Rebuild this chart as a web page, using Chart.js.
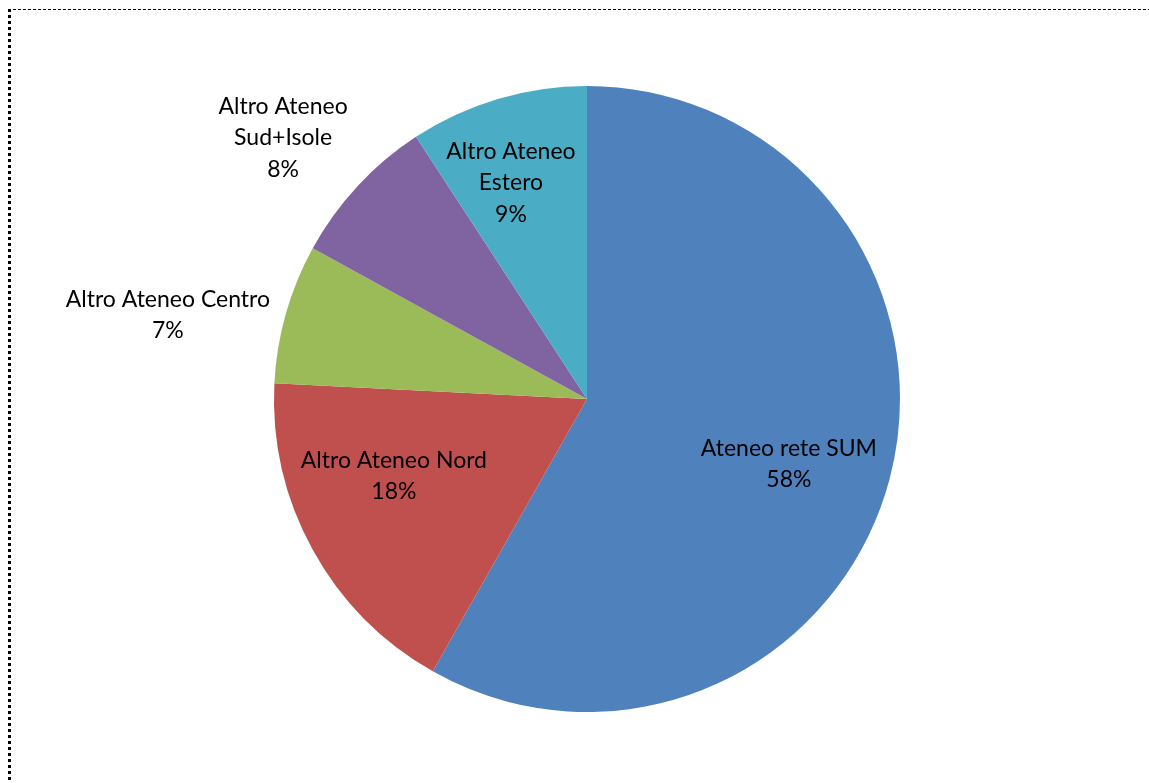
<!DOCTYPE html>
<html>
<head>
<meta charset="utf-8">
<script src="https://cdn.jsdelivr.net/npm/chart.js@4"></script>
<style>
  html, body { margin: 0; padding: 0; background: #fff; overflow: hidden; }
  #frame {
    position: absolute; left: 8px; top: 9px;
    width: 1200px; height: 800px;
    border-top: 1px dashed #000;
    border-left: 3px dotted #000;
  }
  #wrap { position: absolute; left: 0; top: 0; width: 1149px; height: 783px; }
</style>
</head>
<body>
<div id="frame"></div>
<div id="wrap"><canvas id="pieChart"></canvas></div>
<script>
const labels = ['Ateneo rete SUM', 'Altro Ateneo Nord', 'Altro Ateneo Centro', 'Altro Ateneo Sud+Isole', 'Altro Ateneo Estero'];
const values = [58.2, 17.6, 7.2, 7.8, 9.2];
const percentLabels = ['58%', '18%', '7%', '8%', '9%'];
const colors = ['#4F81BD', '#C0504D', '#9BBB59', '#8064A2', '#4BACC6'];

// label text lines, and label offset from pie centre in units of radius
const labelLines = [
    ['Ateneo rete SUM'],
    ['Altro Ateneo Nord'],
    ['Altro Ateneo Centro'],
    ['Altro Ateneo', 'Sud+Isole'],
    ['Altro Ateneo', 'Estero']
];
const labelOffsets = [
    [0.645, 0.208],
    [-0.617, 0.246],
    [-1.339, -0.268],
    [-0.971, -0.834],
    [-0.243, -0.690]
];

Chart.register({
    id: 'sliceLabels',
    afterDatasetsDraw(chart) {
        const ctx = chart.ctx;
        const arcs = chart.getDatasetMeta(0).data;
        ctx.save();
        ctx.font = '23px Lato';
        ctx.fillStyle = '#000';
        ctx.textAlign = 'center';
        ctx.textBaseline = 'middle';
        const lineH = 31.5;
        arcs.forEach((arc, i) => {
            const r = arc.outerRadius;
            const cx = arc.x + labelOffsets[i][0] * r;
            const cy = arc.y + labelOffsets[i][1] * r;
            const lines = labelLines[i].concat([percentLabels[i]]);
            const top = cy - (lines.length - 1) * lineH / 2;
            lines.forEach((t, j) => ctx.fillText(t, cx, top + j * lineH));
        });
        ctx.restore();
    }
});

new Chart(document.getElementById('pieChart'), {
    type: 'pie',
    data: {
        labels: labels,
        datasets: [{
            data: values,
            backgroundColor: colors,
            borderWidth: 0
        }]
    },
    options: {
        responsive: true,
        maintainAspectRatio: false,
        animation: false,
        layout: {
            padding: { left: 274, right: 249, top: 86, bottom: 71 }
        },
        plugins: {
            legend: { display: false },
            tooltip: { enabled: false }
        }
    }
});
</script>
</body>
</html>
